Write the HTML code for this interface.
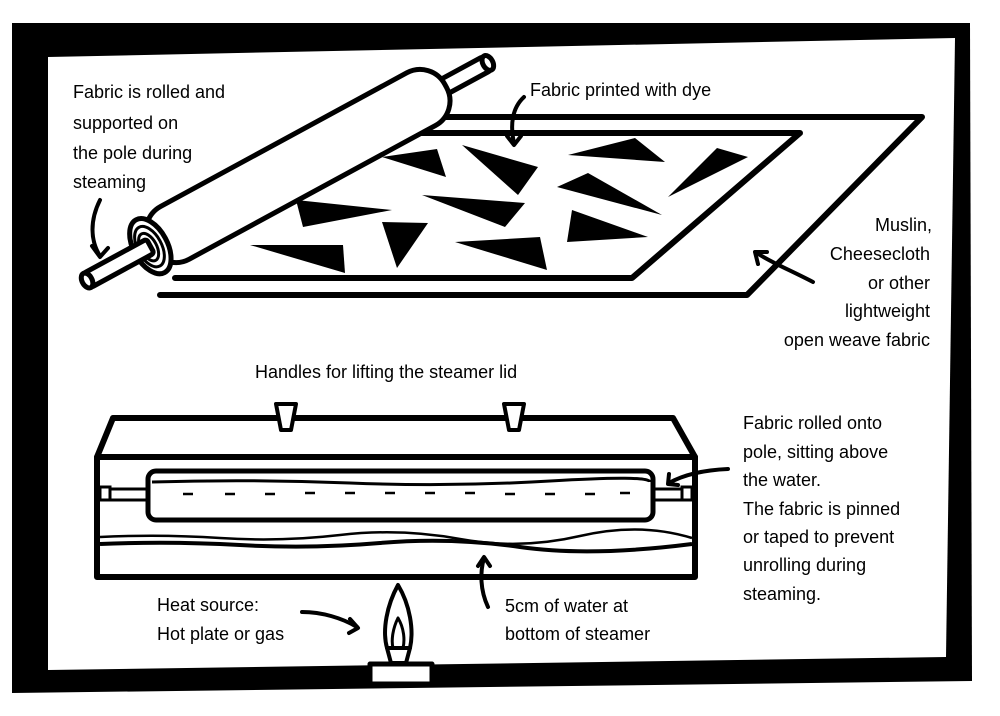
<!DOCTYPE html>
<html><head><meta charset="utf-8"><style>
html,body{margin:0;padding:0;background:#fff;}
svg{display:block;}
text{font-family:"Liberation Sans",sans-serif;font-size:18px;fill:#000;}
</style></head><body>
<svg width="1000" height="716" viewBox="0 0 1000 716" xmlns="http://www.w3.org/2000/svg">
<polygon points="12,23 970,23 972,681 12,693" fill="#000"/>
<polygon points="48,57 955,38 946,657 48,670" fill="#fff"/>

<g fill="none" stroke="#000" stroke-linejoin="round" stroke-linecap="round">
<path d="M430,117 L922,117 L747,295 L160,295" stroke-width="6"/>
<path d="M420,133 L800,133 L632,278 L175,278" stroke-width="6"/>
</g>
<g fill="#000">
<polygon points="382,157 437,149 446,177"/>
<polygon points="462,145 538,167 518,195"/>
<polygon points="296,200 392,210 303,227"/>
<polygon points="422,195 525,203 505,227"/>
<polygon points="382,222 428,223 397,268"/>
<polygon points="250,245 343,245 345,273"/>
<polygon points="455,242 540,237 547,270"/>
<polygon points="568,155 635,138 665,162"/>
<polygon points="668,197 717,148 748,157"/>
<polygon points="557,187 588,173 662,215"/>
<polygon points="567,242 572,210 648,237"/>
</g>

<g transform="translate(298,166) rotate(-28.5)" stroke="#000" stroke-width="5" fill="#fff">
<rect x="-20" y="-8" width="240" height="16" rx="8"/>
<ellipse cx="216" cy="0" rx="5" ry="8"/>
<rect x="-168" y="-30" width="336" height="60" rx="28"/>
<ellipse cx="-168" cy="0" rx="17" ry="30"/>
<ellipse cx="-169" cy="0" rx="12" ry="22" stroke-width="3"/>
<ellipse cx="-170" cy="0" rx="8" ry="15" stroke-width="3"/>
<rect x="-240" y="-8" width="72" height="16" rx="3"/>
<ellipse cx="-240" cy="0" rx="5" ry="8"/>
</g>

<g stroke="#000" fill="#fff" stroke-linejoin="round">
<polygon points="113,418 673,418 695,457 97,457" stroke-width="6"/>
<rect x="97" y="457" width="598" height="120" stroke-width="6"/>
<polygon points="276,404 296,404 291,430 281,430" stroke-width="4"/>
<polygon points="504,404 524,404 519,430 509,430" stroke-width="4"/>
</g>
<g stroke="#000" fill="none">
<line x1="100" y1="489" x2="692" y2="489" stroke-width="3"/>
<line x1="100" y1="500" x2="692" y2="500" stroke-width="3"/>
<rect x="100" y="487" width="10" height="13" fill="#fff" stroke-width="3"/>
<rect x="682" y="487" width="10" height="13" fill="#fff" stroke-width="3"/>
<rect x="148" y="471" width="505" height="49" rx="8" fill="#fff" stroke-width="5"/>
<path d="M152,482 Q250,479 350,483 T550,481 T650,482" stroke-width="3"/>
<path d="M183,494 H193 M225,494 H235 M265,494 H275 M305,493 H315 M345,493 H355 M385,493 H395 M425,493 H435 M465,493 H475 M505,494 H515 M545,494 H555 M585,494 H595 M620,493 H630" stroke-width="2.5"/>
<path d="M100,537 Q160,534 220,538 T340,535 T460,539 T580,536 T692,538" stroke-width="2.5"/>
<path d="M100,544 Q170,541 240,545 T380,543 T520,547 T692,544" stroke-width="4"/>
</g>

<g stroke="#000" fill="#fff" stroke-linejoin="round">
<path d="M398,585 C410,605 414,630 410,648 L387,648 C382,630 387,605 398,585 Z" stroke-width="4"/>
<path d="M398,618 C404,628 405,640 403,648 L393,648 C391,640 393,628 398,618 Z" stroke-width="3"/>
<polygon points="387,648 410,648 406,663 391,663" stroke-width="4"/>
<rect x="370" y="664" width="62" height="20" stroke-width="5"/>
</g>

<g fill="none" stroke="#000" stroke-width="4" stroke-linecap="round" stroke-linejoin="round">
<path d="M100,200 C90,220 90,240 100,256"/>
<path d="M92,246 L100,257 L108,248"/>
<path d="M524,97 C512,108 510,125 514,143"/>
<path d="M507,136 L514,145 L521,136"/>
<path d="M813,282 C790,270 770,262 757,253"/>
<path d="M758,264 L755,252 L767,252"/>
<path d="M728,469 C705,470 685,474 669,483"/>
<path d="M669,474 L668,484 L678,485"/>
<path d="M302,612 C322,612 342,618 357,627"/>
<path d="M350,619 L358,628 L349,633"/>
<path d="M488,607 C480,590 480,572 484,558"/>
<path d="M478,566 L484,557 L490,566"/>
</g>

<text x="73" y="98">Fabric is rolled and</text>
<text x="73" y="129">supported on</text>
<text x="73" y="159">the pole during</text>
<text x="73" y="188">steaming</text>
<text x="530" y="96">Fabric printed with dye</text>
<g text-anchor="end">
<text x="932" y="231">Muslin,</text>
<text x="930" y="260">Cheesecloth</text>
<text x="930" y="289">or other</text>
<text x="930" y="317">lightweight</text>
<text x="930" y="346">open weave fabric</text>
</g>
<text x="255" y="378">Handles for lifting the steamer lid</text>
<text x="743" y="429">Fabric rolled onto</text>
<text x="743" y="458">pole, sitting above</text>
<text x="743" y="486">the water.</text>
<text x="743" y="515">The fabric is pinned</text>
<text x="743" y="543">or taped to prevent</text>
<text x="743" y="571">unrolling during</text>
<text x="743" y="600">steaming.</text>
<text x="157" y="611">Heat source:</text>
<text x="157" y="640">Hot plate or gas</text>
<text x="505" y="612">5cm of water at</text>
<text x="505" y="640">bottom of steamer</text>
</svg>
</body></html>
